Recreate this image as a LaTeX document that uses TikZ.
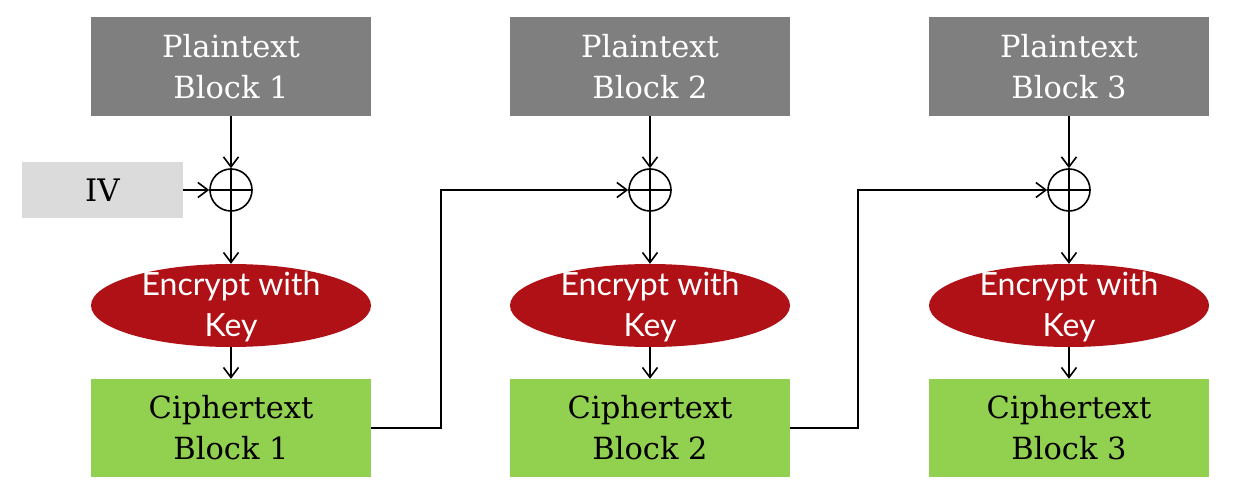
\documentclass[tikz,border=0pt]{standalone}
\usepackage{fontspec}
\setmainfont{DejaVu Serif}
\newfontfamily\gill{Lato}
\usetikzlibrary{shapes.geometric,arrows.meta}
\definecolor{pgray}{HTML}{7F7F7F}
\definecolor{ivgray}{HTML}{DCDBDC}
\definecolor{encred}{HTML}{B01116}
\definecolor{cgreen}{HTML}{92D050}
\tikzset{
  plainbox/.style={fill=pgray, text=white, minimum width=280pt, minimum height=99pt, align=center, inner sep=0pt, font=\fontsize{30.5}{41}\selectfont},
  cipherbox/.style={fill=cgreen, text=black, minimum width=280pt, minimum height=98pt, align=center, inner sep=0pt, font=\fontsize{30.5}{41}\selectfont},
  ivbox/.style={fill=ivgray, text=black, minimum width=161pt, minimum height=56pt, inner sep=0pt, font=\fontsize{31}{36}\selectfont},
  encnode/.style={ellipse, fill=encred, minimum width=280pt, minimum height=83pt, inner sep=0pt},
  enctext/.style={text=white, align=center, inner sep=0pt, font=\gill\fontsize{32}{41}\selectfont},
  xornode/.style={circle, draw=black, line width=1.6pt, minimum size=42pt, inner sep=0pt},
  conn/.style={line width=1.6pt, -{Straight Barb[length=10pt,width=15pt,line width=1.6pt]}},
  line/.style={line width=1.6pt}
}
\begin{document}
\begin{tikzpicture}[x=1pt,y=-1pt]
\useasboundingbox (0,0) rectangle (1248,494);
\foreach \i/\cx in {1/231,2/650,3/1069}{
  \node[plainbox] (p\i) at (\cx,66.5) {Plaintext\\Block \i};
  \node[xornode] (x\i) at (\cx,190) {};
  \draw[line] (x\i.north) -- (x\i.south) (x\i.west) -- (x\i.east);
  \node[encnode] (e\i) at (\cx,305.5) {};
  \node[enctext] (t\i) at ([yshift=-1pt]e\i.center) {Encrypt with\\Key};
  \node[cipherbox] (c\i) at (\cx,428) {Ciphertext\\Block \i};
  \draw[conn] (p\i.south) -- (x\i.north);
  \draw[conn] (x\i.south) -- (e\i.north);
  \draw[conn] (e\i.south) -- (c\i.north);
}
\node[ivbox] (iv) at (102.5,190) {IV};
\draw[conn] (iv.east) -- (x1.west);
\coordinate (k1) at (441,428);
\coordinate (k2) at (858,428);
\draw[conn] (c1.east) -- (k1) |- (x2.west);
\draw[conn] (c2.east) -- (k2) |- (x3.west);
\end{tikzpicture}
\end{document}
